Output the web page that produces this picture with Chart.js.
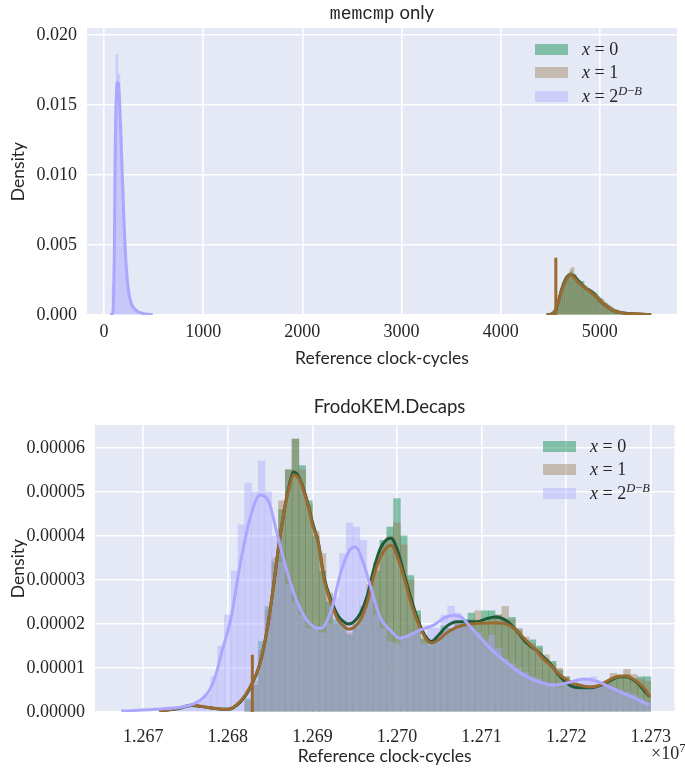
<!DOCTYPE html>
<html>
<head>
<meta charset="utf-8">
<title>memcmp only / FrodoKEM.Decaps</title>
<script src="https://cdn.jsdelivr.net/npm/chart.js@4.4.1/dist/chart.umd.min.js"></script>
<style>
  body { margin: 0; background: #fff; }
  #page { position: relative; width: 685px; height: 776px; overflow: hidden; }
  .panel { position: absolute; left: 0; width: 685px; }
  .panel canvas { position: absolute; left: 0; top: 0; }
  .title { position: absolute; text-align: center; font-family: Lato, sans-serif; font-size: 18.5px; line-height: 22px; color: #262626; white-space: nowrap; }
  .title .tt { font-family: "Liberation Mono", monospace; font-size: 18px; }
  .legend { position: absolute; font-family: "Liberation Serif", serif; font-size: 18px; color: #262626; }
  .legend .row { display: flex; align-items: center; height: 23.3px; white-space: nowrap; }
  .legend .swatch { width: 33px; height: 11px; margin-right: 14px; }
  .legend sup { font-size: 12.5px; vertical-align: 7px; line-height: 0; }
  .offset { position: absolute; font-family: "Liberation Serif", serif; font-size: 18px; color: #262626; line-height: 22px; }
  .offset sup { font-size: 12.5px; vertical-align: 7px; line-height: 0; }
</style>
</head>
<body>
<div id="page">
  <div class="panel" style="top:0;height:380px">
    <canvas id="memChart" width="685" height="380"></canvas>
    <div class="title" style="left:87px;width:590px;top:1px"><span class="tt">memcmp</span> only</div>
    <div class="legend" id="memLegend" style="left:535px;top:38px"></div>
  </div>
  <div class="panel" style="top:385px;height:391px">
    <canvas id="frodoChart" width="685" height="391"></canvas>
    <div class="title" style="left:95px;width:589px;top:10px">FrodoKEM.Decaps</div>
    <div class="legend" id="frodoLegend" style="left:543px;top:50px"></div>
    <div class="offset" style="left:651px;top:357px">&times;10<sup>7</sup></div>
  </div>
</div>
<script>
// ---- memcmp only (clock-cycles, density) ----
const memBinWidth = 20;
const memBlueStart = 80;
const memBlueHist = [0.0022, 0.0128, 0.0186, 0.0172, 0.0138, 0.0092, 0.0057, 0.0034, 0.0019, 0.0011,
  0.0007, 0.00045, 0.0003, 0.00022, 0.00016, 0.00012, 0.0001, 0.00008, 0.00006, 0.00005];
const memGreenStart = 4460;
const memGreenHist = [0.00005, 0.0001, 0.0002, 0.0002, 0.0004, 0.0008, 0.0013, 0.0019, 0.0022, 0.0025,
  0.0027, 0.0029, 0.0031, 0.0028, 0.0029, 0.0026, 0.0025, 0.0023, 0.0024, 0.0021,
  0.0020, 0.0019, 0.0018, 0.0017, 0.0016, 0.0015, 0.0013, 0.0012, 0.0011, 0.0009,
  0.0008, 0.0007, 0.0006, 0.0005, 0.0004, 0.00035, 0.0003, 0.00025, 0.0002, 0.0002,
  0.00015, 0.00014, 0.00012, 0.0001, 0.0001, 0.00008, 0.00007, 0.00006, 0.00005, 0.00004,
  0.00003, 0.00003, 0.00002];
const memBrownHist = [0.00005, 0.0001, 0.00015, 0.0003, 0.0005, 0.0007, 0.0012, 0.0018, 0.0023, 0.0024,
  0.0028, 0.0030, 0.0033, 0.0034, 0.0027, 0.0026, 0.0024, 0.0024, 0.0022, 0.0021,
  0.0019, 0.0019, 0.0017, 0.0016, 0.0016, 0.0014, 0.0013, 0.0012, 0.0010, 0.0009,
  0.0008, 0.0007, 0.0006, 0.0005, 0.0004, 0.0004, 0.0003, 0.00025, 0.0002, 0.00018,
  0.00015, 0.00012, 0.00012, 0.0001, 0.00009, 0.00008, 0.00006, 0.00006, 0.00005, 0.00004,
  0.00003, 0.00002, 0.00002];
const memBlueKdeX = [60, 85, 95, 103, 110, 117, 125, 135, 145, 155, 165, 178, 192, 208, 225, 245, 270, 300, 340, 400, 450, 490];
const memBlueKdeY = [0, 0.0001, 0.0008, 0.004, 0.0095, 0.0138, 0.0158, 0.0166, 0.0165, 0.0155, 0.0137,
  0.0112, 0.0083, 0.0055, 0.0033, 0.0018, 0.0009, 0.0005, 0.00025, 0.0001, 0.00005, 0.00002];
const memKdeX = [4465, 4530, 4555, 4586, 4623, 4667, 4707, 4737, 4788, 4859, 4929, 4990, 5061, 5141, 5242, 5384, 5515];
const memGreenKdeY = [0, 0.0001, 0.00035, 0.0011, 0.002, 0.0027, 0.0029, 0.0028, 0.0024, 0.0019, 0.0016,
  0.0011, 0.00065, 0.0003, 0.00014, 0.00007, 0.00001];
const memBrownKdeY = [0, 0.0001, 0.0004, 0.0011, 0.0019, 0.0026, 0.0029, 0.0027, 0.0023, 0.0019, 0.0015,
  0.0011, 0.00066, 0.0003, 0.00013, 0.00007, 0.00001];
const memBrownSpikeX = 4556;
const memBrownSpikeY = 0.0041;
const memXTicks = [0, 1000, 2000, 3000, 4000, 5000];
const memYTicks = [0, 0.005, 0.010, 0.015, 0.020];

// ---- FrodoKEM.Decaps (x in units of 1e7 cycles, density in units of 1e-5) ----
const frodoBinWidth = 0.00008;
const frodoGreenStart = 1.2682;
const frodoGreenHist = [0.3, 0.6, 1.6, 2.4, 3.4, 4.6, 5.5, 6.2, 5.6, 4.8,
  4.0, 3.2, 2.5, 2.1, 2.0, 1.75, 2.0, 2.3, 2.7, 3.2,
  3.9, 4.2, 4.85, 4.0, 3.1, 2.3, 1.65, 1.6, 1.7, 1.95,
  1.9, 2.0, 2.1, 2.25, 2.0, 2.3, 2.3, 2.2, 2.1, 2.15,
  1.86, 1.6, 1.64, 1.5, 1.2, 1.15, 0.95, 0.8, 0.6, 0.55,
  0.6, 0.55, 0.62, 0.65, 0.75, 0.8, 0.85, 0.75, 0.8, 0.8];
const frodoBrownHist = [0.25, 0.7, 1.4, 2.3, 3.5, 4.8, 5.5, 6.2, 5.5, 4.7,
  4.1, 3.6, 2.7, 2.0, 1.9, 1.8, 1.9, 2.4, 2.9, 3.4,
  3.8, 4.0, 4.3, 3.8, 3.0, 2.2, 1.7, 1.5, 1.55, 1.8,
  1.9, 2.05, 1.95, 2.1, 2.3, 2.0, 2.1, 2.2, 2.4, 2.1,
  1.9, 1.7, 1.55, 1.45, 1.3, 1.1, 1.0, 0.8, 0.65, 0.6,
  0.55, 0.6, 0.6, 0.7, 0.88, 0.8, 0.97, 0.85, 0.75, 0.7];
const frodoBlueStart = 1.2674;
const frodoBlueHist = [0.05, 0.1, 0.15, 0.25, 0.4, 0.8, 1.5, 2.2, 3.2, 4.25,
  5.2, 5.0, 5.7, 5.0, 4.0, 3.4, 2.9, 2.5, 2.2, 1.9,
  1.9, 1.8, 2.0, 2.6, 3.6, 4.3, 4.2, 3.9, 2.8, 2.2,
  1.9, 1.6, 1.55, 1.7, 1.75, 1.8, 1.55, 1.9, 1.9, 2.2,
  2.4, 2.25, 2.0, 1.9, 1.8, 1.6, 1.75, 1.45, 1.2, 1.1,
  1.0, 0.9, 0.8, 0.75, 0.6, 0.65, 0.55, 0.65, 0.6, 0.7,
  0.75, 0.8, 0.7, 0.6, 0.55, 0.5, 0.45, 0.4, 0.3, 0.2];
const frodoBlueKdeX = [1.26674, 1.26721, 1.26744, 1.26759, 1.26771, 1.26779, 1.26786, 1.26792, 1.26804, 1.26815,
  1.26827, 1.26838, 1.26849, 1.26858, 1.26870, 1.26881, 1.26893, 1.26902, 1.26910, 1.26922,
  1.26934, 1.26945, 1.26951, 1.26960, 1.26971, 1.26980, 1.26992, 1.27003, 1.27015, 1.27027,
  1.27044, 1.27056, 1.27067, 1.27076, 1.27087, 1.27099, 1.27110, 1.27126, 1.27141, 1.27157,
  1.27172, 1.27186, 1.27205, 1.27221, 1.27236, 1.27251, 1.27267, 1.27283, 1.27298];
const frodoBlueKdeY = [0.02, 0.07, 0.11, 0.18, 0.32, 0.52, 0.85, 1.3, 2.15, 3.4,
  4.45, 4.93, 4.75, 4.07, 3.2, 2.55, 2.1, 1.93, 1.9, 2.3,
  3.2, 3.7, 3.75, 3.4, 2.7, 2.15, 1.86, 1.68, 1.75, 1.86,
  1.98, 2.14, 2.2, 2.16, 1.93, 1.68, 1.45, 1.18, 0.95, 0.77,
  0.66, 0.61, 0.68, 0.75, 0.7, 0.57, 0.43, 0.3, 0.16];
const frodoKdeX = [1.26719, 1.26742, 1.26757, 1.26777, 1.26800, 1.26815, 1.26827, 1.26838, 1.26847, 1.26855,
  1.26860, 1.26866, 1.26872, 1.26878, 1.26885, 1.26893, 1.26901, 1.26907, 1.26914, 1.26922,
  1.26930, 1.26937, 1.26943, 1.26949, 1.26957, 1.26965, 1.26972, 1.26980, 1.26988, 1.26993,
  1.27001, 1.27009, 1.27017, 1.27027, 1.27036, 1.27041, 1.27048, 1.27059, 1.27071, 1.27083,
  1.27094, 1.27106, 1.27117, 1.27129, 1.27141, 1.27152, 1.27164, 1.27172, 1.27181, 1.27193,
  1.27205, 1.27216, 1.27228, 1.27240, 1.27251, 1.27263, 1.27271, 1.27283, 1.27294, 1.27299];
const frodoGreenKdeY = [0.02, 0.08, 0.15, 0.1, 0.06, 0.23, 0.57, 1.1, 1.93, 3.0,
  3.75, 4.5, 5.1, 5.45, 5.3, 4.85, 4.25, 3.85, 3.05, 2.55,
  2.2, 2.05, 2.0, 2.05, 2.25, 2.65, 3.2, 3.7, 3.92, 3.95,
  3.65, 3.1, 2.55, 1.98, 1.66, 1.6, 1.72, 1.95, 2.05, 2.05,
  2.05, 2.12, 2.16, 2.08, 1.86, 1.59, 1.41, 1.27, 1.1, 0.8,
  0.6, 0.55, 0.55, 0.6, 0.7, 0.8, 0.8, 0.68, 0.45, 0.34];
const frodoBrownKdeY = [0.02, 0.09, 0.16, 0.1, 0.06, 0.25, 0.6, 1.1, 1.93, 3.0,
  3.75, 4.5, 5.05, 5.39, 5.27, 4.82, 4.2, 3.84, 3.0, 2.48,
  2.1, 1.95, 1.88, 1.92, 2.1, 2.5, 3.05, 3.5, 3.74, 3.78,
  3.5, 3.0, 2.45, 1.93, 1.62, 1.57, 1.62, 1.8, 1.93, 1.99,
  2.01, 2.02, 2.02, 2.0, 1.86, 1.64, 1.41, 1.23, 1.07, 0.84,
  0.68, 0.61, 0.57, 0.61, 0.73, 0.82, 0.82, 0.7, 0.5, 0.34];
const frodoBrownSpikeX = 1.26829;
const frodoBrownSpikeY = 1.3;
const frodoXTicks = [1.267, 1.268, 1.269, 1.270, 1.271, 1.272, 1.273];
const frodoYTicks = [0, 1, 2, 3, 4, 5, 6];
const frodoYUnit = 1e-5;

const seriesLabels = ['<i>x</i> = 0', '<i>x</i> = 1', '<i>x</i> = 2<sup><i>D</i>\u2212<i>B</i></sup>'];
const barColors = ['rgba(30, 148, 92, 0.5)', 'rgba(150, 115, 70, 0.4)', 'rgba(172, 166, 255, 0.42)'];
const lineColors = ['#1d5b38', '#9b6a31', '#aca6ff'];

const plotBackground = {
  id: 'plotBackground',
  beforeDraw(chart) {
    const { ctx, chartArea } = chart;
    ctx.save();
    ctx.fillStyle = '#e4e9f5';
    ctx.fillRect(chartArea.left, chartArea.top, chartArea.width, chartArea.height);
    ctx.restore();
  }
};

// bin centres are rounded so that equal bins of different series share one x value
function histPoints(start, width, heights, unit) {
  return heights.map((h, i) => ({
    x: Math.round((start + (i + 0.5) * width) * 1e7) / 1e7,
    y: h * unit
  }));
}

function curvePoints(xs, ys, unit) {
  return xs.map((x, i) => ({ x: x, y: ys[i] * unit }));
}

function barSet(data, color, order) {
  return {
    type: 'bar', data: data, backgroundColor: color, borderWidth: 0,
    grouped: false, categoryPercentage: 1, barPercentage: 1, order: order
  };
}

function lineSet(data, color, order, smooth) {
  return {
    type: 'line', data: data, borderColor: color, borderWidth: 3, pointRadius: 0,
    fill: false, cubicInterpolationMode: smooth ? 'monotone' : 'default', tension: 0, order: order
  };
}

function buildLegend(el) {
  seriesLabels.forEach((label, i) => {
    const row = document.createElement('div');
    row.className = 'row';
    const box = document.createElement('div');
    box.className = 'swatch';
    box.style.backgroundColor = barColors[i];
    const text = document.createElement('span');
    text.innerHTML = label;
    row.appendChild(box);
    row.appendChild(text);
    el.appendChild(row);
  });
}

function axes(opts) {
  const sans = { family: 'Lato, sans-serif', size: 17.5 };
  const serif = { family: '"Liberation Serif", serif', size: 18 };
  return {
    x: {
      type: 'linear', min: opts.xMin, max: opts.xMax, offset: false,
      grid: { color: '#ffffff', lineWidth: 1.6, drawTicks: false, offset: false },
      border: { display: false },
      ticks: { font: serif, padding: opts.xPad, maxRotation: 0, callback: opts.xFmt },
      afterBuildTicks: axis => { axis.ticks = opts.xTicks.map(v => ({ value: v })); },
      afterFit: axis => { axis.height = opts.xHeight; },
      title: { display: true, text: 'Reference clock-cycles', font: sans, padding: { top: 0, bottom: 0 } }
    },
    y: {
      type: 'linear', min: 0, max: opts.yMax,
      grid: { color: '#ffffff', lineWidth: 1.6, drawTicks: false },
      border: { display: false },
      ticks: { font: serif, padding: 10, callback: opts.yFmt },
      afterBuildTicks: axis => { axis.ticks = opts.yTicks.map(v => ({ value: v })); },
      afterFit: axis => { axis.width = opts.yWidth; },
      title: { display: true, text: 'Density', font: sans, padding: { top: 8, bottom: 0 } }
    }
  };
}

Chart.defaults.color = '#262626';

// order: histograms underneath, then green, brown and lavender density curves on top
new Chart(document.getElementById('memChart'), {
  type: 'bar',
  data: {
    datasets: [
      barSet(histPoints(memGreenStart, memBinWidth, memGreenHist, 1), barColors[0], 6),
      barSet(histPoints(memGreenStart, memBinWidth, memBrownHist, 1), barColors[1], 5),
      barSet(histPoints(memBlueStart, memBinWidth, memBlueHist, 1), barColors[2], 4),
      lineSet(curvePoints(memKdeX, memGreenKdeY, 1), lineColors[0], 3, true),
      lineSet(curvePoints(memKdeX, memBrownKdeY, 1), lineColors[1], 2, true),
      lineSet([{ x: memBrownSpikeX, y: 0 }, { x: memBrownSpikeX, y: memBrownSpikeY }], lineColors[1], 2, false),
      lineSet(curvePoints(memBlueKdeX, memBlueKdeY, 1), lineColors[2], 1, true)
    ]
  },
  options: {
    responsive: false,
    animation: false,
    events: [],
    devicePixelRatio: 1,
    layout: { padding: { top: 28, right: 8, bottom: 11, left: 0 } },
    plugins: { legend: { display: false }, tooltip: { enabled: false }, title: { display: false } },
    scales: axes({
      xMin: -172, xMax: 5778, xTicks: memXTicks, xFmt: v => String(v), xPad: 6, xHeight: 54,
      yMax: 0.0205, yTicks: memYTicks, yFmt: v => v.toFixed(3), yWidth: 87
    })
  },
  plugins: [plotBackground]
});

new Chart(document.getElementById('frodoChart'), {
  type: 'bar',
  data: {
    datasets: [
      barSet(histPoints(frodoGreenStart, frodoBinWidth, frodoGreenHist, frodoYUnit), barColors[0], 6),
      barSet(histPoints(frodoGreenStart, frodoBinWidth, frodoBrownHist, frodoYUnit), barColors[1], 5),
      barSet(histPoints(frodoBlueStart, frodoBinWidth, frodoBlueHist, frodoYUnit), barColors[2], 4),
      lineSet(curvePoints(frodoKdeX, frodoGreenKdeY, frodoYUnit), lineColors[0], 3, true),
      lineSet(curvePoints(frodoKdeX, frodoBrownKdeY, frodoYUnit), lineColors[1], 2, true),
      lineSet([{ x: frodoBrownSpikeX, y: 0 }, { x: frodoBrownSpikeX, y: frodoBrownSpikeY * frodoYUnit }], lineColors[1], 2, false),
      lineSet(curvePoints(frodoBlueKdeX, frodoBlueKdeY, frodoYUnit), lineColors[2], 1, true)
    ]
  },
  options: {
    responsive: false,
    animation: false,
    events: [],
    devicePixelRatio: 1,
    layout: { padding: { top: 40, right: 1, bottom: 9, left: 0 } },
    plugins: { legend: { display: false }, tooltip: { enabled: false }, title: { display: false } },
    scales: axes({
      xMin: 1.26643, xMax: 1.27328, xTicks: frodoXTicks, xFmt: v => v.toFixed(3), xPad: 14, xHeight: 55,
      yMax: 6.52e-5, yTicks: frodoYTicks.map(v => v * frodoYUnit), yFmt: v => v.toFixed(5), yWidth: 95
    })
  },
  plugins: [plotBackground]
});

buildLegend(document.getElementById('memLegend'));
buildLegend(document.getElementById('frodoLegend'));
</script>
</body>
</html>
